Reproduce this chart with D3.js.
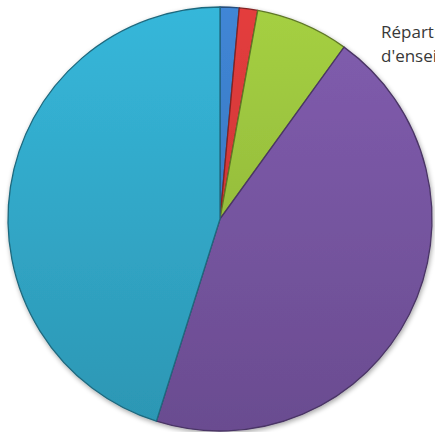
<!DOCTYPE html>
<html>
<head>
<meta charset="utf-8">
<script src="https://cdn.jsdelivr.net/npm/d3@7"></script>
<style>
  html, body { margin: 0; padding: 0; background: #fff; overflow: hidden; }
  #chart { width: 435px; height: 432px; }
</style>
</head>
<body>
<div id="chart"></div>
<script>
// categories and shares (%)
const categories = ["Catégorie 1", "Catégorie 2", "Catégorie 3", "Catégorie 4", "Catégorie 5"];
const values = [1.45, 1.4, 7.1, 44.9, 45.15];
const colors = ["#3d7fcb", "#d83a3a", "#9cc53f", "#7a58a6", "#33adcf"];
const titleLines = ["Répartition des établissements", "d'enseignement"];

const width = 435;
const height = 432;
const cx = 220;
const cy = 219;
const radius = 212;

const svg = d3.select("#chart")
    .append("svg")
    .attr("width", width)
    .attr("height", height);

const defs = svg.append("defs");

// soft shadow around the pie
const shadow = defs.append("filter")
    .attr("id", "shadow")
    .attr("x", "-10%").attr("y", "-10%")
    .attr("width", "120%").attr("height", "120%");
shadow.append("feGaussianBlur")
    .attr("in", "SourceAlpha")
    .attr("stdDeviation", 2.5);
shadow.append("feOffset").attr("dx", 1).attr("dy", 2).attr("result", "blur");
shadow.append("feComponentTransfer")
    .append("feFuncA").attr("type", "linear").attr("slope", 0.35);
const merge = shadow.append("feMerge");
merge.append("feMergeNode");
merge.append("feMergeNode").attr("in", "SourceGraphic");

// vertical gradient per slice, lighter on top
colors.forEach((c, i) => {
    const g = defs.append("linearGradient")
        .attr("id", `grad-${i}`)
        .attr("gradientUnits", "userSpaceOnUse")
        .attr("x1", 0).attr("y1", -radius)
        .attr("x2", 0).attr("y2", radius);
    g.append("stop").attr("offset", "0%").attr("stop-color", d3.color(c).brighter(0.15));
    g.append("stop").attr("offset", "100%").attr("stop-color", d3.color(c).darker(0.4));
});

const pie = d3.pie()
    .sort(null)
    .value(d => d);

const arc = d3.arc()
    .innerRadius(0)
    .outerRadius(radius);

const g = svg.append("g")
    .attr("transform", `translate(${cx},${cy})`)
    .attr("filter", "url(#shadow)");

g.selectAll("path")
    .data(pie(values))
    .join("path")
    .attr("d", arc)
    .attr("fill", (d, i) => `url(#grad-${i})`)
    .attr("stroke", (d, i) => d3.color(colors[i]).darker(1.4))
    .attr("stroke-width", 1.3)
    .attr("stroke-linejoin", "round")
    .append("title")
    .text((d, i) => `${categories[i]} : ${values[i]}%`);

// title, cut off by the right edge as in the source
svg.append("g")
    .selectAll("text")
    .data(titleLines)
    .join("text")
    .attr("x", 381)
    .attr("y", (d, i) => 38 + i * 24)
    .attr("font-family", "'Open Sans', 'Noto Sans', sans-serif")
    .attr("font-size", "17px")
    .attr("fill", "#383838")
    .text(d => d);
</script>
</body>
</html>
